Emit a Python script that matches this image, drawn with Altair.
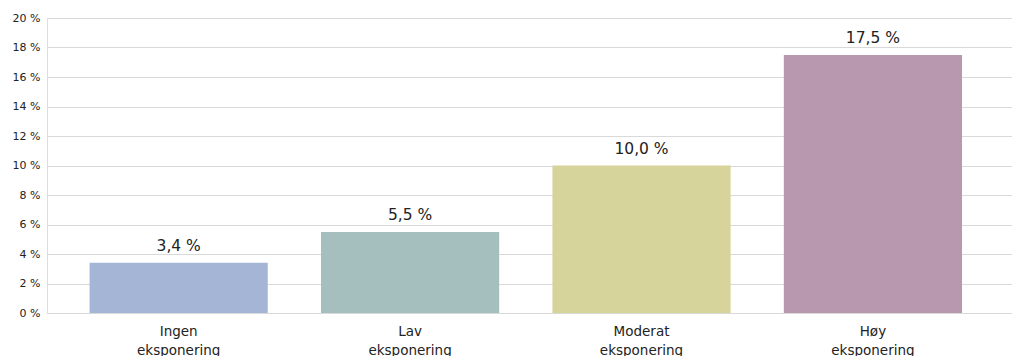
import altair as alt
import pandas as pd

# Share of each exposure group, in percent
categories = ["Ingen eksponering", "Lav eksponering", "Moderat eksponering", "Høy eksponering"]
values = [3.4, 5.5, 10.0, 17.5]
value_labels = ["3,4 %", "5,5 %", "10,0 %", "17,5 %"]
colors = ["#a4b5d6", "#a5bfbf", "#d6d49b", "#b898ae"]
y_ticks = [0, 2, 4, 6, 8, 10, 12, 14, 16, 18, 20]

df = pd.DataFrame({"kategori": categories, "andel": values, "etikett": value_labels})

FONT = "DejaVu Sans"
INK = "#222222"

x = alt.X(
    "kategori:N",
    sort=categories,
    title=None,
    scale=alt.Scale(paddingInner=0.23, paddingOuter=0.2, align=0.46),
    axis=alt.Axis(
        labelAngle=0,
        labelExpr="split(datum.label, ' ')",
        labelFontSize=13.5,
        labelLineHeight=19,
        labelColor=INK,
        labelFont=FONT,
        labelPadding=11,
        ticks=False,
        domain=False,
    ),
)

y = alt.Y(
    "andel:Q",
    title=None,
    scale=alt.Scale(domain=[0, 20], nice=False),
    axis=alt.Axis(
        values=y_ticks,
        tickCount=len(y_ticks),
        labelOverlap=False,
        labelExpr="datum.value + ' %'",
        labelFontSize=11,
        labelColor=INK,
        labelFont=FONT,
        labelPadding=7,
        ticks=False,
        domain=False,
        gridColor="#d9d9d9",
        gridWidth=1,
    ),
)

bars = alt.Chart(df).mark_bar().encode(
    x=x,
    y=y,
    color=alt.Color("kategori:N", sort=categories,
                    scale=alt.Scale(domain=categories, range=colors), legend=None),
)

text = alt.Chart(df).mark_text(
    baseline="alphabetic", dy=-12, fontSize=15.5, font=FONT, color=INK
).encode(
    x=alt.X("kategori:N", sort=categories),
    y="andel:Q",
    text="etikett:N",
)

chart = (
    alt.layer(bars, text)
    .properties(
        width=965,
        height=295,
        autosize=alt.AutoSizeParams(type="none"),
        padding={"left": 47, "top": 18, "right": 0, "bottom": 43},
    )
    .configure_view(stroke=None)
    .configure(background="white")
)

chart.save("out.html", embed_options={"renderer": "svg", "actions": False})
